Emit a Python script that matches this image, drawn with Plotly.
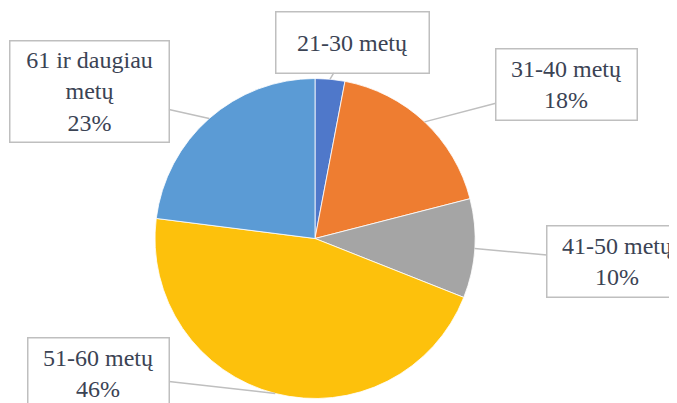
import math
import plotly.graph_objects as go

labels = ["21-30 metų", "31-40 metų", "41-50 metų", "51-60 metų", "61 ir daugiau metų"]
values = [3, 18, 10, 46, 23]
box_texts = ["21-30 metų", "31-40 metų<br>18%", "41-50 metų<br>10%",
             "51-60 metų<br>46%", "61 ir daugiau<br>metų<br>23%"]
colors = ["#4F78CA", "#EE7D31", "#A5A5A5", "#FDC10C", "#5B9BD5"]

W, H = 677, 403
SH = 8  # page body margin offset
cx, cy, r = 315 - SH, 238.5 - SH, 160

# label box offsets (px from anchor) and sizes
offsets = [(22, -37), (142, -37), (143, 13), (-177, -20), (-120, -27)]
sizes = [(150, 58), (138, 68), (138, 68), (138, 68), (156, 98)]

FONT = "'Liberation Serif', 'Times New Roman', Times, 'DejaVu Serif', 'Noto Serif', serif"

fig = go.Figure(go.Pie(
    labels=labels, values=values, sort=False, direction="clockwise", rotation=0,
    marker=dict(colors=colors, line=dict(color="white", width=0.8)),
    textinfo="none", hoverinfo="label+percent",
    domain=dict(x=[(cx - r) / W, (cx + r) / W], y=[1 - (cy + r) / H, 1 - (cy - r) / H]),
))

total = sum(values)
cum = 0
for i, v in enumerate(values):
    mid = (cum + v / 2) / total * 2 * math.pi
    cum += v
    px = cx + r * math.sin(mid)
    py = cy - r * math.cos(mid)
    ax, ay = offsets[i]
    w, h = sizes[i]
    fig.add_annotation(
        x=px / W, y=1 - py / H, xref="paper", yref="paper",
        text=box_texts[i], showarrow=True, arrowhead=0, arrowwidth=1.5,
        arrowcolor="#BFBFBF", ax=ax, ay=ay,
        font=dict(family=FONT, size=24, color="#3B4354"),
        bgcolor="white", bordercolor="#BFBFBF", borderwidth=1.5, borderpad=1,
        width=w, height=h, align="center", valign="middle",
    )

fig.update_layout(
    width=W, height=H, margin=dict(l=0, r=0, t=0, b=0),
    font=dict(family=FONT),
    paper_bgcolor="white", plot_bgcolor="white", showlegend=False,
)
fig.write_html("out.html")
